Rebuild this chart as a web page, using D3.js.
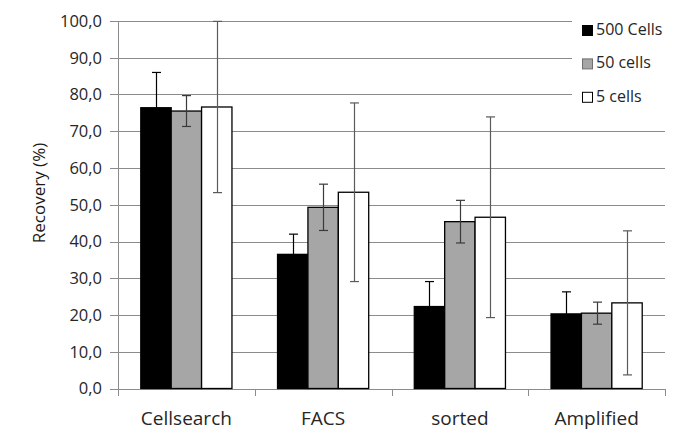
<!DOCTYPE html>
<html>
<head>
<meta charset="utf-8">
<script src="https://cdn.jsdelivr.net/npm/d3@7"></script>
<style>
  body { margin: 0; background: #fff; }
  svg { display: block; font-family: "Open Sans", "Noto Sans", sans-serif; }
</style>
</head>
<body>
<svg id="chart" width="685" height="444"></svg>
<script>
const categories = ["Cellsearch", "FACS", "sorted", "Amplified"];
const seriesNames = ["500 Cells", "50 cells", "5 cells"];
const values500 = [76.4, 36.5, 22.3, 20.3];
const values50  = [75.5, 49.3, 45.4, 20.5];
const values5   = [76.6, 53.4, 46.6, 23.3];
const errors500 = [9.6, 5.5, 6.8, 6.0];
const errors50  = [4.2, 6.3, 5.8, 3.0];
const errors5   = [23.3, 24.3, 27.3, 19.6];
const yTicks = [0, 10, 20, 30, 40, 50, 60, 70, 80, 90, 100];
const colors = ["#000000", "#a6a6a6", "#ffffff"];

(function () {
const svg = d3.select("#chart");
const pLeft = 118, pRight = 665, pTop = 21, pBottom = 388.5;

const x0 = d3.scaleBand().domain(categories).range([pLeft, pRight]).paddingInner(0).paddingOuter(0);
const innerPad = 1.5 / 4.5 / 2;
const x1 = d3.scaleBand().domain(seriesNames)
  .range([x0.bandwidth() * innerPad, x0.bandwidth() * (1 - innerPad)]).padding(0);
const y = d3.scaleLinear().domain([0, 100]).range([pBottom, pTop]);

const gridColor = "#8c8c8c";

// gridlines
svg.append("g").selectAll("line").data(yTicks).join("line")
  .attr("x1", pLeft - 8).attr("x2", pRight)
  .attr("y1", d => Math.round(y(d)) + 0.5).attr("y2", d => Math.round(y(d)) + 0.5)
  .attr("stroke", gridColor).attr("stroke-width", 1);

// y axis labels
svg.append("g").selectAll("text").data(yTicks).join("text")
  .attr("x", 102).attr("y", d => y(d))
  .attr("dy", "0.36em")
  .attr("text-anchor", "end")
  .attr("font-size", 16.5).attr("fill", "#262626")
  .text(d => d.toFixed(1).replace(".", ","));

// axes lines
svg.append("line").attr("x1", pLeft + 0.5).attr("x2", pLeft + 0.5)
  .attr("y1", pTop).attr("y2", Math.round(pBottom) + 0.5)
  .attr("stroke", gridColor);
svg.append("line").attr("x1", pLeft).attr("x2", pRight)
  .attr("y1", Math.round(pBottom) + 0.5).attr("y2", Math.round(pBottom) + 0.5)
  .attr("stroke", gridColor);
// x ticks at category boundaries
const bounds = categories.map(c => x0(c)).concat([pRight]);
svg.append("g").selectAll("line").data(bounds).join("line")
  .attr("x1", d => Math.round(d) + 0.5).attr("x2", d => Math.round(d) + 0.5)
  .attr("y1", Math.round(pBottom)).attr("y2", Math.round(pBottom) + 7)
  .attr("stroke", gridColor);

const seriesData = [
  {name: seriesNames[0], vals: values500, errs: errors500, color: colors[0], ecol: "#000000"},
  {name: seriesNames[1], vals: values50, errs: errors50, color: colors[1], ecol: "#3a3a3a"},
  {name: seriesNames[2], vals: values5, errs: errors5, color: colors[2], ecol: "#5a5a5a"}
];

// bars
const gBars = svg.append("g");
seriesData.forEach(s => {
  categories.forEach((c, i) => {
    const bx = x0(c) + x1(s.name);
    gBars.append("rect")
      .attr("x", bx).attr("y", y(s.vals[i]))
      .attr("width", x1.bandwidth()).attr("height", y(0) - y(s.vals[i]))
      .attr("fill", s.color).attr("stroke", "#000").attr("stroke-width", 1.3);
  });
});

// error bars
const gErr = svg.append("g");
seriesData.forEach(s => {
  categories.forEach((c, i) => {
    const cx = Math.round(x0(c) + x1(s.name) + x1.bandwidth() / 2) + 0.5;
    const hi = Math.min(100, s.vals[i] + s.errs[i]);
    const lo = s.vals[i] - s.errs[i];
    gErr.append("line").attr("x1", cx).attr("x2", cx)
      .attr("y1", y(hi)).attr("y2", y(lo)).attr("stroke", s.ecol).attr("stroke-width", 1.2);
    [hi, lo].forEach(v => {
      gErr.append("line").attr("x1", cx - 4.5).attr("x2", cx + 4.5)
        .attr("y1", y(v)).attr("y2", y(v)).attr("stroke", s.ecol).attr("stroke-width", 1.2);
    });
  });
});

// category labels
svg.append("g").selectAll("text").data(categories).join("text")
  .attr("x", d => x0(d) + x0.bandwidth() / 2).attr("y", 425)
  .attr("text-anchor", "middle").attr("font-size", 19).attr("fill", "#262626")
  .text(d => d);

// y title
svg.append("text")
  .attr("transform", "translate(45,193) rotate(-90)")
  .attr("text-anchor", "middle").attr("font-size", 17).attr("fill", "#1a1a1a")
  .text("Recovery (%)");

// legend
const lg = svg.append("g");
lg.append("rect").attr("x", 572).attr("y", 4).attr("width", 113).attr("height", 108).attr("fill", "#fff");
seriesNames.forEach((n, i) => {
  const by = 35 + i * 33.4;
  lg.append("rect").attr("x", 582.5).attr("y", by - 9.5).attr("width", 10).attr("height", 10)
    .attr("fill", colors[i]).attr("stroke", i === 1 ? "#6e6e6e" : "#000").attr("stroke-width", 1);
  lg.append("text").attr("x", 596).attr("y", by)
    .attr("font-size", 16).attr("fill", "#262626").text(n);
});
})();
</script>
</body>
</html>
